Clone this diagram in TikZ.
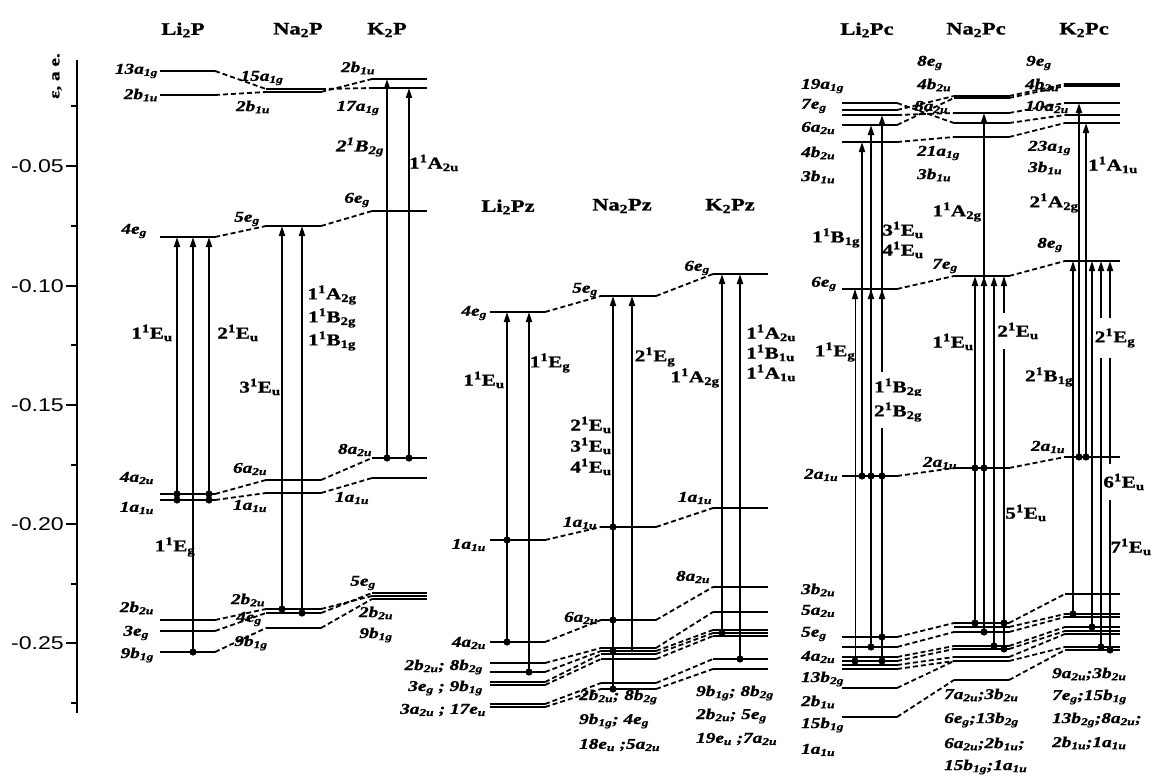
\documentclass[tikz,border=0pt]{standalone}
\usepackage{fontspec}
\setmainfont{Liberation Serif}[FakeStretch=1.28,
    BoldFeatures={FakeBold=1.2}, BoldItalicFeatures={FakeBold=1.2}]
\setsansfont{Liberation Sans}[FakeStretch=1.25]
\usetikzlibrary{arrows.meta}

\newcommand{\orbfont}{\fontsize{15}{16}\selectfont\bfseries\itshape}
\newcommand{\stfont}{\fontsize{16.5}{17}\selectfont\bfseries}
\newcommand{\headfont}{\fontsize{17.5}{18}\selectfont\bfseries}
\newcommand{\orb}[2]{#1\textsubscript{#2}}
\newcommand{\stt}[3]{#1\textsuperscript{1}#2\textsubscript{#3}}
% level line: name, left x, y
\newcommand{\lvl}[3]{\draw[level] (#2,#3) coordinate (#1-l) -- ++(55,0) coordinate (#1-r);}
\newcommand{\jump}[4][]{\draw[arr,#1] (#2,0|-#3-l) -- (#2,0|-#4-l);}
\newcommand{\dotat}[2]{\fill (#1,0|-#2-l) circle (3.6pt);}
\newcommand{\joinlv}[2]{\draw[link] (#1-r) -- (#2-l);}

\begin{document}
\begin{tikzpicture}[x=1pt, y=-1pt,
    level/.style={line width=2.8pt},
    arr/.style={line width=1.8pt, -{Triangle[length=10pt,width=6pt]}},
    link/.style={line width=1.8pt, dash pattern=on 5pt off 3pt},
    orb/.style={font=\orbfont, inner sep=1pt},
    st/.style={font=\stfont, inner sep=1pt},
    gapst/.style={st, fill=white, inner xsep=1pt, inner ysep=10pt},
    head/.style={font=\headfont},
    tick/.style={font=\sffamily\fontsize{18.5}{19}\selectfont, inner sep=0pt}]
\useasboundingbox (0,0) rectangle (1152,776);

% energy axis
\draw[line width=2.8pt] (77,60) coordinate (axtop) -- (77,713) coordinate (axbot);
\foreach \yy/\tl in {166/-0.05,286/-0.10,405/-0.15,524/-0.20,643/-0.25}{
    \draw[line width=2.8pt] (66,\yy) -- (77,\yy);
    \node[tick, anchor=east] (tk\yy) at (64,\yy) {\tl};}
\foreach \yy in {106,226,345,465,584,703}
    \draw[line width=2.8pt] (71,\yy) -- (77,\yy);
\node[rotate=90, font=\fontsize{15}{16}\selectfont\bfseries] (eps) at (57,76) {ε, a e.};

% titles
\node[head] (hLiP) at (183,30) {Li\textsubscript{2}P};
\node[head] (hNaP) at (298,30) {Na\textsubscript{2}P};
\node[head] (hKP) at (387,30) {K\textsubscript{2}P};
\node[head] (hLiPz) at (508,207) {Li\textsubscript{2}Pz};
\node[head] (hNaPz) at (622,206) {Na\textsubscript{2}Pz};
\node[head] (hKPz) at (730,206) {K\textsubscript{2}Pz};
\node[head] (hLiPc) at (867,30) {Li\textsubscript{2}Pc};
\node[head] (hNaPc) at (976,30) {Na\textsubscript{2}Pc};
\node[head] (hKPc) at (1084,30) {K\textsubscript{2}Pc};

% ---------- porphyrins P ----------
\lvl{p1-13a1g}{160}{71}
\lvl{p1-2b1u}{160}{95}
\lvl{p1-4eg}{160}{237}
\lvl{p1-4a2u}{160}{494}
\lvl{p1-1a1u}{160}{500}
\lvl{p1-2b2u}{160}{620}
\lvl{p1-3eg}{160}{631}
\lvl{p1-9b1g}{160}{652}
\lvl{p2-15a1g}{266}{89}
\lvl{p2-2b1u}{266}{92}
\lvl{p2-5eg}{266}{226}
\lvl{p2-6a2u}{266}{480}
\lvl{p2-1a1u}{266}{493}
\lvl{p2-2b2u}{266}{609}
\lvl{p2-4eg}{266}{613}
\lvl{p2-9b1g}{266}{628}
\lvl{p3-2b1u}{372}{79}
\lvl{p3-17a1g}{372}{88}
\lvl{p3-6eg}{372}{211}
\lvl{p3-8a2u}{372}{458}
\lvl{p3-1a1u}{372}{478}
\lvl{p3-5eg}{372}{593}
\lvl{p3-2b2u}{372}{596}
\lvl{p3-9b1g}{372}{599}

\joinlv{p1-13a1g}{p2-15a1g}
\joinlv{p1-2b1u}{p2-2b1u}
\joinlv{p1-4eg}{p2-5eg}
\joinlv{p1-4a2u}{p2-6a2u}
\joinlv{p1-1a1u}{p2-1a1u}
\joinlv{p1-2b2u}{p2-2b2u}
\joinlv{p1-3eg}{p2-4eg}
\joinlv{p1-9b1g}{p2-9b1g}
\joinlv{p2-15a1g}{p3-17a1g}
\joinlv{p2-2b1u}{p3-2b1u}
\joinlv{p2-5eg}{p3-6eg}
\joinlv{p2-6a2u}{p3-8a2u}
\joinlv{p2-1a1u}{p3-1a1u}
\joinlv{p2-2b2u}{p3-2b2u}
\joinlv{p2-4eg}{p3-5eg}
\joinlv{p2-9b1g}{p3-9b1g}

\jump{177}{p1-1a1u}{p1-4eg}
\jump{193}{p1-9b1g}{p1-4eg}
\jump{209}{p1-1a1u}{p1-4eg}
\jump{282}{p2-2b2u}{p2-5eg}
\jump{302}{p2-4eg}{p2-5eg}
\jump{387}{p3-8a2u}{p3-2b1u}
\jump{409}{p3-8a2u}{p3-17a1g}
\dotat{177}{p1-4a2u} \dotat{177}{p1-1a1u}
\dotat{209}{p1-4a2u} \dotat{209}{p1-1a1u}
\dotat{193}{p1-9b1g}
\dotat{282}{p2-2b2u} \dotat{302}{p2-4eg}
\dotat{387}{p3-8a2u} \dotat{409}{p3-8a2u}

\node[orb, anchor=east] (t-p1-13a1g) at (159,71) {\orb{13a}{1g}};
\node[orb, anchor=east] (t-p1-2b1u) at (159,95) {\orb{2b}{1u}};
\node[orb, anchor=east] (t-p1-4eg) at (148,231) {\orb{4e}{g}};
\node[orb, anchor=east] (t-p1-4a2u) at (155,478) {\orb{4a}{2u}};
\node[orb, anchor=east] (t-p1-1a1u) at (155,508) {\orb{1a}{1u}};
\node[orb, anchor=east] (t-p1-2b2u) at (155,608) {\orb{2b}{2u}};
\node[orb, anchor=east] (t-p1-3eg) at (150,633) {\orb{3e}{g}};
\node[orb, anchor=east] (t-p1-9b1g) at (155,655) {\orb{9b}{1g}};
\node[orb] (t-p2-15a1g) at (262,78) {\orb{15a}{1g}};
\node[orb] (t-p2-2b1u) at (253,107) {\orb{2b}{1u}};
\node[orb] (t-p2-5eg) at (247,219) {\orb{5e}{g}};
\node[orb] (t-p2-6a2u) at (250,469) {\orb{6a}{2u}};
\node[orb] (t-p2-1a1u) at (250,506) {\orb{1a}{1u}};
\node[orb] (t-p2-2b2u) at (248,600) {\orb{2b}{2u}};
\node[orb] (t-p2-4eg) at (249,619) {\orb{4e}{g}};
\node[orb] (t-p2-9b1g) at (251,643) {\orb{9b}{1g}};
\node[orb] (t-p3-2b1u) at (358,68) {\orb{2b}{1u}};
\node[orb] (t-p3-17a1g) at (358,108) {\orb{17a}{1g}};
\node[orb] (t-p3-6eg) at (357,200) {\orb{6e}{g}};
\node[orb] (t-p3-8a2u) at (355,450) {\orb{8a}{2u}};
\node[orb] (t-p3-1a1u) at (352,498) {\orb{1a}{1u}};
\node[orb] (t-p3-5eg) at (363,583) {\orb{5e}{g}};
\node[orb] (t-p3-2b2u) at (376,613) {\orb{2b}{2u}};
\node[orb] (t-p3-9b1g) at (376,635) {\orb{9b}{1g}};

\node[st] (s-p1-1Eu) at (152,333) {\stt{1}{E}{u}};
\node[st] (s-p1-2Eu) at (238,333) {\stt{2}{E}{u}};
\node[st] (s-p1-1Eg) at (175,547) {\stt{1}{E}{g}};
\node[st] (s-p2-3Eu) at (260,387) {\stt{3}{E}{u}};
\node[st] (s-p2-1A2g) at (332,295) {\stt{1}{A}{2g}};
\node[st] (s-p2-1B2g) at (332,318) {\stt{1}{B}{2g}};
\node[st] (s-p2-1B1g) at (332,341) {\stt{1}{B}{1g}};
\node[st, font=\stfont\itshape] (s-p3-2B2g) at (360,147) {\stt{2}{B}{2g}};
\node[st] (s-p3-1A2u) at (434,163) {\stt{1}{A}{2u}};

% ---------- porphyrazines Pz ----------
\lvl{z1-4eg}{490}{312}
\lvl{z1-1a1u}{490}{540}
\lvl{z1-4a2u}{490}{642}
\lvl{z1-2b2u}{490}{663}
\lvl{z1-8b2g}{490}{672}
\lvl{z1-9b1g}{490}{682}
\lvl{z1-3eg}{490}{685}
\lvl{z1-17eu}{490}{704}
\lvl{z1-3a2u}{490}{707}
\lvl{z2-5eg}{601}{296}
\lvl{z2-1a1u}{601}{527}
\lvl{z2-6a2u}{601}{620}
\lvl{z2-2b2u}{601}{648}
\lvl{z2-8b2g}{601}{651}
\lvl{z2-9b1g}{601}{654}
\lvl{z2-4eg}{601}{659}
\lvl{z2-18eu}{601}{683}
\lvl{z2-5a2u}{601}{689}
\lvl{z3-6eg}{713}{274}
\lvl{z3-1a1u}{713}{508}
\lvl{z3-8a2u}{713}{587}
\lvl{z3-2b2u}{713}{612}
\lvl{z3-8b2g}{713}{630}
\lvl{z3-9b1g}{713}{633}
\lvl{z3-5eg}{713}{636}
\lvl{z3-19eu}{713}{659}
\lvl{z3-7a2u}{713}{669}

\joinlv{z1-4eg}{z2-5eg}
\joinlv{z1-1a1u}{z2-1a1u}
\joinlv{z1-4a2u}{z2-6a2u}
\joinlv{z1-2b2u}{z2-2b2u}
\joinlv{z1-8b2g}{z2-8b2g}
\joinlv{z1-9b1g}{z2-9b1g}
\joinlv{z1-3eg}{z2-4eg}
\joinlv{z1-17eu}{z2-18eu}
\joinlv{z1-3a2u}{z2-5a2u}
\joinlv{z2-5eg}{z3-6eg}
\joinlv{z2-1a1u}{z3-1a1u}
\joinlv{z2-6a2u}{z3-8a2u}
\joinlv{z2-2b2u}{z3-2b2u}
\joinlv{z2-8b2g}{z3-8b2g}
\joinlv{z2-9b1g}{z3-9b1g}
\joinlv{z2-4eg}{z3-5eg}
\joinlv{z2-18eu}{z3-19eu}
\joinlv{z2-5a2u}{z3-7a2u}

\jump{507}{z1-4a2u}{z1-4eg}
\jump{529}{z1-8b2g}{z1-4eg}
\jump{613}{z2-5a2u}{z2-5eg}
\jump{632}{z2-8b2g}{z2-5eg}
\jump{722}{z3-9b1g}{z3-6eg}
\jump{740}{z3-19eu}{z3-6eg}
\dotat{507}{z1-1a1u} \dotat{507}{z1-4a2u}
\dotat{529}{z1-8b2g}
\dotat{613}{z2-1a1u} \dotat{613}{z2-6a2u} \dotat{613}{z2-8b2g} \dotat{613}{z2-5a2u}
\dotat{722}{z3-9b1g} \dotat{740}{z3-19eu}

\node[orb, anchor=east] (t-z1-4eg) at (488,313) {\orb{4e}{g}};
\node[orb, anchor=east] (t-z1-1a1u) at (487,545) {\orb{1a}{1u}};
\node[orb, anchor=east] (t-z1-4a2u) at (487,643) {\orb{4a}{2u}};
\node[orb, anchor=east] (t-z1-g1) at (484,667) {\orb{2b}{2u}; \orb{8b}{2g}};
\node[orb, anchor=east] (t-z1-g2) at (484,688) {\orb{3e}{g} ; \orb{9b}{1g}};
\node[orb, anchor=east] (t-z1-g3) at (487,710) {\orb{3a}{2u} ; \orb{17e}{u}};
\node[orb] (t-z2-5eg) at (585,290) {\orb{5e}{g}};
\node[orb] (t-z2-1a1u) at (580,523) {\orb{1a}{1u}};
\node[orb] (t-z2-6a2u) at (581,618) {\orb{6a}{2u}};
\node[orb, anchor=west] (t-z2-g1) at (578,697) {\orb{2b}{2u}; \orb{8b}{2g}};
\node[orb, anchor=west] (t-z2-g2) at (578,721) {\orb{9b}{1g}; \orb{4e}{g}};
\node[orb, anchor=west] (t-z2-g3) at (578,745) {\orb{18e}{u} ;\orb{5a}{2u}};
\node[orb] (t-z3-6eg) at (697,268) {\orb{6e}{g}};
\node[orb] (t-z3-1a1u) at (695,498) {\orb{1a}{1u}};
\node[orb] (t-z3-8a2u) at (693,577) {\orb{8a}{2u}};
\node[orb, anchor=west] (t-z3-g1) at (695,693) {\orb{9b}{1g}; \orb{8b}{2g}};
\node[orb, anchor=west] (t-z3-g2) at (695,716) {\orb{2b}{2u}; \orb{5e}{g}};
\node[orb, anchor=west] (t-z3-g3) at (695,739) {\orb{19e}{u} ;\orb{7a}{2u}};

\node[st] (s-z1-1Eu) at (484,380) {\stt{1}{E}{u}};
\node[st] (s-z1-1Eg) at (550,363) {\stt{1}{E}{g}};
\node[st] (s-z2-2Eg) at (655,357) {\stt{2}{E}{g}};
\node[st] (s-z2-2Eu) at (591,425) {\stt{2}{E}{u}};
\node[st] (s-z2-3Eu) at (591,446) {\stt{3}{E}{u}};
\node[st] (s-z2-4Eu) at (591,467) {\stt{4}{E}{u}};
\node[st] (s-z3-1A2g) at (695,378) {\stt{1}{A}{2g}};
\node[st, anchor=west] (s-z3-1A2u) at (745,333) {\stt{1}{A}{2u}};
\node[st, anchor=west] (s-z3-1B1u) at (745,353) {\stt{1}{B}{1u}};
\node[st, anchor=west] (s-z3-1A1u) at (745,373) {\stt{1}{A}{1u}};

% ---------- phthalocyanines Pc ----------
\lvl{c1-19a1g}{842}{103}
\lvl{c1-7eg}{842}{110}
\lvl{c1-6a2u}{842}{115}
\lvl{c1-4b2u}{842}{125}
\lvl{c1-3b1u}{842}{142}
\lvl{c1-6eg}{842}{289}
\lvl{c1-2a1u}{842}{476}
\lvl{c1-3b2u}{842}{637}
\lvl{c1-5a2u}{842}{647}
\lvl{c1-5eg}{842}{657}
\lvl{c1-4a2u}{842}{661}
\lvl{c1-2b1u}{842}{665}
\lvl{c1-1a1u}{842}{669}
\lvl{c1-13b2g}{842}{688}
\lvl{c1-15b1g}{842}{717}
\lvl{c2-8eg}{954}{96}
\lvl{c2-4b2u}{954}{98}
\lvl{c2-8a2u}{954}{113}
\lvl{c2-21a1g}{954}{123}
\lvl{c2-3b1u}{954}{137}
\lvl{c2-7eg}{954}{276}
\lvl{c2-2a1u}{954}{468}
\lvl{c2-7a2u}{954}{623}
\lvl{c2-3b2u}{954}{627}
\lvl{c2-6eg}{954}{632}
\lvl{c2-13b2g}{954}{646}
\lvl{c2-6a2u}{954}{649}
\lvl{c2-2b1u}{954}{657}
\lvl{c2-15b1g}{954}{661}
\lvl{c2-1a1u}{954}{680}
\lvl{c3-9eg}{1065}{84}
\lvl{c3-4b2u}{1065}{86}
\lvl{c3-10a2u}{1065}{103}
\lvl{c3-23a1g}{1065}{115}
\lvl{c3-3b1u}{1065}{123}
\lvl{c3-8eg}{1065}{261}
\lvl{c3-2a1u}{1065}{457}
\lvl{c3-9a2u}{1065}{594}
\lvl{c3-3b2u}{1065}{614}
\lvl{c3-7eg}{1065}{617}
\lvl{c3-15b1g}{1065}{627}
\lvl{c3-13b2g}{1065}{631}
\lvl{c3-8a2u}{1065}{634}
\lvl{c3-2b1u}{1065}{647}
\lvl{c3-1a1u}{1065}{650}

\joinlv{c1-19a1g}{c2-21a1g}
\joinlv{c1-7eg}{c2-8eg}
\joinlv{c1-6a2u}{c2-8a2u}
\joinlv{c1-4b2u}{c2-4b2u}
\joinlv{c1-3b1u}{c2-3b1u}
\joinlv{c2-8eg}{c3-9eg}
\joinlv{c2-4b2u}{c3-4b2u}
\joinlv{c2-8a2u}{c3-10a2u}
\joinlv{c2-21a1g}{c3-23a1g}
\joinlv{c2-3b1u}{c3-3b1u}
\joinlv{c1-6eg}{c2-7eg}
\joinlv{c2-7eg}{c3-8eg}
\joinlv{c1-2a1u}{c2-2a1u}
\joinlv{c2-2a1u}{c3-2a1u}
\joinlv{c1-3b2u}{c2-7a2u}
\joinlv{c1-5a2u}{c2-6eg}
\joinlv{c1-5eg}{c2-13b2g}
\joinlv{c1-4a2u}{c2-6a2u}
\joinlv{c1-2b1u}{c2-2b1u}
\joinlv{c1-1a1u}{c2-15b1g}
\joinlv{c1-13b2g}{c2-15b1g}
\joinlv{c1-15b1g}{c2-1a1u}
\joinlv{c2-7a2u}{c3-9a2u}
\joinlv{c2-3b2u}{c3-3b2u}
\joinlv{c2-6eg}{c3-7eg}
\joinlv{c2-13b2g}{c3-15b1g}
\joinlv{c2-6a2u}{c3-13b2g}
\joinlv{c2-2b1u}{c3-8a2u}
\joinlv{c2-15b1g}{c3-2b1u}
\joinlv{c2-1a1u}{c3-1a1u}

\jump[line width=1pt]{855}{c1-4a2u}{c1-6eg}
\jump{862}{c1-2a1u}{c1-3b1u}
\jump{871}{c1-5a2u}{c1-4b2u}
\jump{871}{c1-2a1u}{c1-6eg}
\jump{882}{c1-4a2u}{c1-6a2u}
\jump{882}{c1-2a1u}{c1-6eg}
\dotat{855}{c1-4a2u}
\dotat{862}{c1-2a1u} \dotat{871}{c1-2a1u} \dotat{882}{c1-2a1u}
\dotat{871}{c1-5a2u} \dotat{882}{c1-3b2u} \dotat{882}{c1-4a2u}
\jump{975}{c2-7a2u}{c2-7eg}
\jump{984}{c2-6eg}{c2-8a2u}
\jump{984}{c2-2a1u}{c2-7eg}
\jump{994}{c2-13b2g}{c2-7eg}
\jump[line width=1.3pt]{1004}{c2-6a2u}{c2-7eg}
\dotat{975}{c2-2a1u} \dotat{984}{c2-2a1u}
\dotat{975}{c2-7a2u} \dotat{984}{c2-6eg} \dotat{994}{c2-13b2g}
\dotat{1004}{c2-7a2u} \dotat{1004}{c2-6a2u}
\jump[line width=1.3pt]{1073}{c3-3b2u}{c3-8eg}
\jump{1079}{c3-2a1u}{c3-10a2u}
\jump{1086}{c3-2a1u}{c3-3b1u}
\jump[line width=1.3pt]{1092}{c3-15b1g}{c3-8eg}
\jump{1101}{c3-2b1u}{c3-8eg}
\jump{1110}{c3-1a1u}{c3-8eg}
\dotat{1079}{c3-2a1u} \dotat{1086}{c3-2a1u}
\dotat{1073}{c3-3b2u} \dotat{1092}{c3-15b1g}
\dotat{1101}{c3-2b1u} \dotat{1110}{c3-1a1u}

\node[orb, anchor=west] (t-c1-19a1g) at (800,86) {\orb{19a}{1g}};
\node[orb, anchor=west] (t-c1-7eg) at (800,106) {\orb{7e}{g}};
\node[orb, anchor=west] (t-c1-6a2u) at (800,128) {\orb{6a}{2u}};
\node[orb, anchor=west] (t-c1-4b2u) at (800,153) {\orb{4b}{2u}};
\node[orb, anchor=west] (t-c1-3b1u) at (800,177) {\orb{3b}{1u}};
\node[orb, anchor=west] (t-c1-6eg) at (810,284) {\orb{6e}{g}};
\node[orb, anchor=west] (t-c1-2a1u) at (803,475) {\orb{2a}{1u}};
\node[orb, anchor=west] (t-c1-3b2u) at (800,590) {\orb{3b}{2u}};
\node[orb, anchor=west] (t-c1-5a2u) at (800,611) {\orb{5a}{2u}};
\node[orb, anchor=west] (t-c1-5eg) at (800,634) {\orb{5e}{g}};
\node[orb, anchor=west] (t-c1-4a2u) at (800,657) {\orb{4a}{2u}};
\node[orb, anchor=west] (t-c1-13b2g) at (800,679) {\orb{13b}{2g}};
\node[orb, anchor=west] (t-c1-2b1u) at (800,702) {\orb{2b}{1u}};
\node[orb, anchor=west] (t-c1-15b1g) at (800,725) {\orb{15b}{1g}};
\node[orb, anchor=west] (t-c1-1a1u) at (800,750) {\orb{1a}{1u}};
\node[orb, anchor=west] (t-c2-8eg) at (916,63) {\orb{8e}{g}};
\node[orb, anchor=west] (t-c2-4b2u) at (916,85) {\orb{4b}{2u}};
\node[orb, anchor=west] (t-c2-8a2u) at (913,107) {\orb{8a}{2u}};
\node[orb, anchor=west] (t-c2-21a1g) at (916,153) {\orb{21a}{1g}};
\node[orb, anchor=west] (t-c2-3b1u) at (916,175) {\orb{3b}{1u}};
\node[orb] (t-c2-7eg) at (945,266) {\orb{7e}{g}};
\node[orb] (t-c2-2a1u) at (940,463) {\orb{2a}{1u}};
\node[orb, anchor=west] (t-c2-g1) at (943,695) {\orb{7a}{2u};\orb{3b}{2u}};
\node[orb, anchor=west] (t-c2-g2) at (943,720) {\orb{6e}{g};\orb{13b}{2g}};
\node[orb, anchor=west] (t-c2-g3) at (943,744) {\orb{6a}{2u};\orb{2b}{1u};};
\node[orb, anchor=west] (t-c2-g4) at (943,767) {\orb{15b}{1g};\orb{1a}{1u}};
\node[orb, anchor=west] (t-c3-9eg) at (1025,63) {\orb{9e}{g}};
\node[orb, anchor=west] (t-c3-4b2u) at (1024,85) {\orb{4b}{2u}};
\node[orb, anchor=west] (t-c3-10a2u) at (1024,107) {\orb{10a}{2u}};
\node[orb, anchor=west] (t-c3-23a1g) at (1027,148) {\orb{23a}{1g}};
\node[orb, anchor=west] (t-c3-3b1u) at (1027,168) {\orb{3b}{1u}};
\node[orb] (t-c3-8eg) at (1050,245) {\orb{8e}{g}};
\node[orb] (t-c3-2a1u) at (1048,447) {\orb{2a}{1u}};
\node[orb, anchor=west] (t-c3-g1) at (1051,674) {\orb{9a}{2u};\orb{3b}{2u}};
\node[orb, anchor=west] (t-c3-g2) at (1051,697) {\orb{7e}{g};\orb{15b}{1g}};
\node[orb, anchor=west] (t-c3-g3) at (1051,720) {\orb{13b}{2g};\orb{8a}{2u};};
\node[orb, anchor=west] (t-c3-g4) at (1051,743) {\orb{2b}{1u};\orb{1a}{1u}};

\node[st] (s-c1-1B1g) at (836,238) {\stt{1}{B}{1g}};
\node[st] (s-c1-3Eu) at (903,230) {\stt{3}{E}{u}};
\node[st] (s-c1-4Eu) at (903,250) {\stt{4}{E}{u}};
\node[st] (s-c1-1Eg) at (835,352) {\stt{1}{E}{g}};
\node[gapst, inner ysep=6pt] (s-c1-1B2g) at (898,388) {\stt{1}{B}{2g}};
\node[gapst, inner ysep=6pt] (s-c1-2B2g) at (898,412) {\stt{2}{B}{2g}};
\node[st] (s-c2-1A2g) at (957,212) {\stt{1}{A}{2g}};
\node[st] (s-c2-1Eu) at (953,342) {\stt{1}{E}{u}};
\node[gapst] (s-c2-2Eu) at (1018,331) {\stt{2}{E}{u}};
\node[st] (s-c2-5Eu) at (1026,513) {\stt{5}{E}{u}};
\node[st] (s-c3-2A2g) at (1054,203) {\stt{2}{A}{2g}};
\node[st] (s-c3-1A1u) at (1113,165) {\stt{1}{A}{1u}};
\node[st] (s-c3-2B1g) at (1049,377) {\stt{2}{B}{1g}};
\node[gapst] (s-c3-2Eg) at (1115,338) {\stt{2}{E}{g}};
\node[gapst] (s-c3-6Eu) at (1124,482) {\stt{6}{E}{u}};
\node[st] (s-c3-7Eu) at (1131,547) {\stt{7}{E}{u}};
\end{tikzpicture}
\end{document}
